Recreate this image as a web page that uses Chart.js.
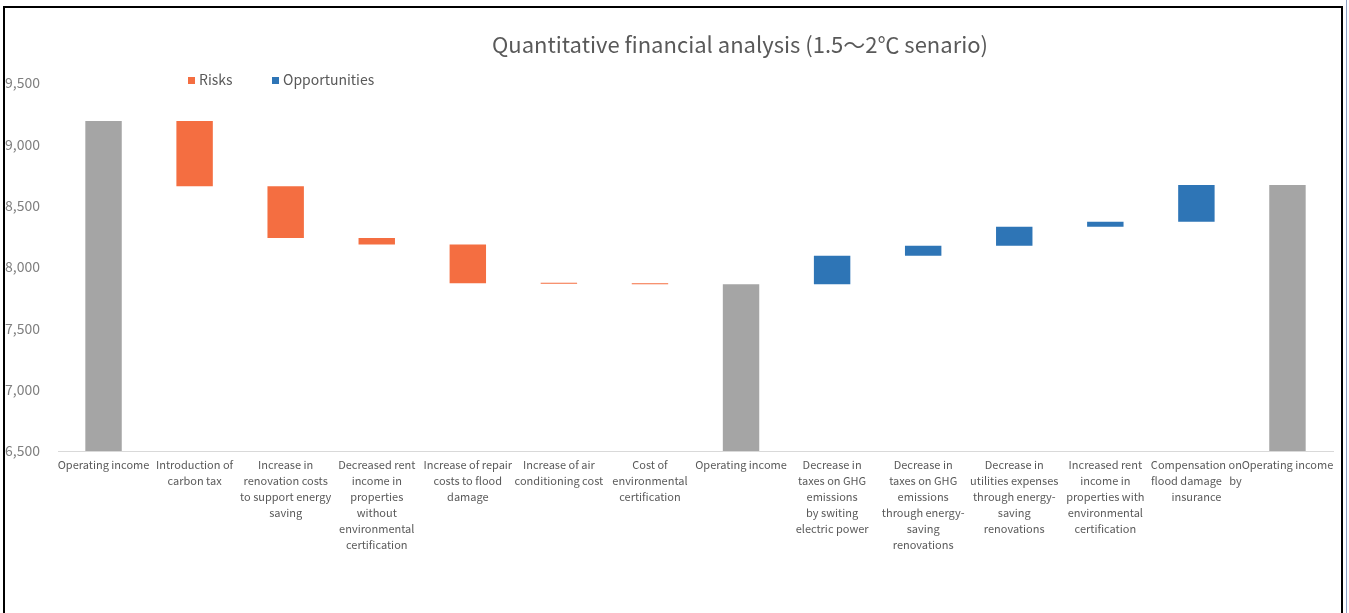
<!DOCTYPE html>
<html>
<head>
<meta charset="utf-8">
<script src="https://cdn.jsdelivr.net/npm/chart.js@4.4.0/dist/chart.umd.min.js"></script>
<style>
html,body{margin:0;padding:0;background:#fff;overflow:hidden;}
#frame{position:absolute;left:3px;top:6px;width:1336px;height:620px;border:2px solid #000;}
#edge{position:absolute;left:1346px;top:0;width:1px;height:613px;background:#8fa3c6;}
#wrap{position:relative;width:1336px;height:605px;}
</style>
</head>
<body>
<div id="frame"><div id="wrap"><canvas id="myChart"></canvas></div></div>
<div id="edge"></div>
<script>
var categories = [
  ['Operating income'],
  ['Introduction of', 'carbon tax'],
  ['Increase in', 'renovation costs', 'to support energy', 'saving'],
  ['Decreased rent', 'income in', 'properties', 'without', 'environmental', 'certification'],
  ['Increase of repair', 'costs to flood', 'damage'],
  ['Increase of air', 'conditioning cost'],
  ['Cost of', 'environmental', 'certification'],
  ['Operating income'],
  ['Decrease in', 'taxes on GHG', 'emissions', 'by switing', 'electric power'],
  ['Decrease in', 'taxes on GHG', 'emissions', 'through energy-', 'saving', 'renovations'],
  ['Decrease in', 'utilities expenses', 'through energy-', 'saving', 'renovations'],
  ['Increased rent', 'income in', 'properties with', 'environmental', 'certification'],
  ['Compensation on', 'flood damage   by', 'insurance'],
  ['Operating income']
]
// operating income totals (gray), null where the bar is a change
var incomeTotals = [9190, null, null, null, null, null, null, 7859, null, null, null, null, null, 8669]
// changes
var riskChanges = [null, -531, -423, -52, -317, -4, -4, null, null, null, null, null, null, null]
var opportunityChanges = [null, null, null, null, null, null, null, null, 233, 81, 155, 41, 300, null]
var legendLabels = ['Risks', 'Opportunities']
var chartTitle = 'Quantitative financial analysis (1.5～2℃ senario)'

var fontName = "'Noto Sans CJK JP', 'Noto Sans', sans-serif"

// build floating bars for the waterfall
var riskBars = []
var oppBars = []
var level = 0
for (var i = 0; i < categories.length; i++) {
  if (incomeTotals[i] != null) {
    level = incomeTotals[i]
    riskBars.push(null)
    oppBars.push(null)
    continue
  }
  if (riskChanges[i] != null) {
    riskBars.push([level + riskChanges[i], level])
    level = level + riskChanges[i]
  } else riskBars.push(null)
  if (opportunityChanges[i] != null) {
    oppBars.push([level, level + opportunityChanges[i]])
    level = level + opportunityChanges[i]
  } else oppBars.push(null)
}

var titleAndLegend = {
  id: 'titleAndLegend',
  afterDraw: function (chart) {
    var ctx = chart.ctx
    ctx.save()
    ctx.fillStyle = '#595959'
    ctx.font = '22px ' + fontName
    ctx.textAlign = 'center'
    ctx.textBaseline = 'middle'
    ctx.fillText(chartTitle, 735, 37)
    var pos = [183, 267]
    ctx.font = '14px ' + fontName
    ctx.textAlign = 'left'
    for (var k = 0; k < 2; k++) {
      ctx.fillStyle = chart.data.datasets[k + 1].backgroundColor
      ctx.fillRect(pos[k], 69, 7, 7)
      ctx.fillStyle = '#595959'
      ctx.fillText(legendLabels[k], pos[k] + 11, 72)
    }
    ctx.restore()
  }
}

var chart = new Chart('myChart', {
  type: 'bar',
  data: {
    labels: categories,
    datasets: [{
      label: 'Operating income',
      data: incomeTotals,
      backgroundColor: '#a5a5a5',
      grouped: false,
      barPercentage: 0.4,
      categoryPercentage: 1
    }, {
      label: legendLabels[0],
      data: riskBars,
      backgroundColor: '#f46e41',
      grouped: false,
      minBarLength: 1,
      barPercentage: 0.4,
      categoryPercentage: 1
    }, {
      label: legendLabels[1],
      data: oppBars,
      backgroundColor: '#2e75b6',
      grouped: false,
      minBarLength: 1,
      barPercentage: 0.4,
      categoryPercentage: 1
    }]
  },
  options: {
    responsive: true,
    maintainAspectRatio: false,
    animation: false,
    layout: { padding: { top: 75, right: 8, left: 0, bottom: 0 } },
    plugins: {
      legend: { display: false },
      title: { display: false },
      tooltip: { enabled: false }
    },
    scales: {
      x: {
        grid: { display: false },
        border: { color: '#d9d9d9', width: 1 },
        ticks: {
          maxRotation: 0,
          autoSkip: false,
          color: '#595959',
          padding: -2,
          font: { size: 11, family: fontName, lineHeight: 1.45 }
        },
        afterFit: function (s) { s.height = 162 }
      },
      y: {
        min: 6500,
        max: 9500,
        grid: { display: false },
        border: { display: false },
        ticks: {
          stepSize: 500,
          color: '#7f7f7f',
          crossAlign: 'far',
          font: { size: 14, family: fontName },
          callback: function (v) { return v.toLocaleString('en-US') }
        },
        afterFit: function (s) { s.width = 53 }
      }
    }
  },
  plugins: [titleAndLegend]
})
</script>
</body>
</html>
